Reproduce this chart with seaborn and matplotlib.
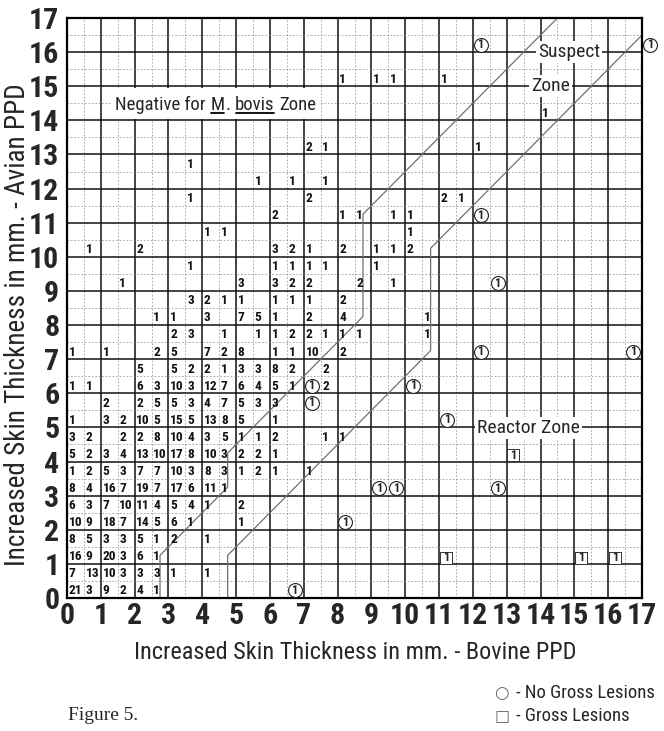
import numpy as np
import pandas as pd
import matplotlib
matplotlib.use("Agg")
import matplotlib.pyplot as plt
import seaborn as sns
from matplotlib import font_manager as fm
from matplotlib.ticker import MultipleLocator
from matplotlib.patches import Rectangle
from matplotlib.lines import Line2D

# ---------------- data (0.5 mm cells: lower-left corner in mm) ----------------
avian_rows = [0.0, 0.5, 1.0, 1.5, 2.0, 2.5, 3.0, 3.5, 4.0, 4.5, 5.0, 5.5, 6.0,
              6.5, 7.0, 7.5, 8.0, 8.5, 9.0, 9.5, 10.0, 10.5, 11.0, 11.5, 12.0,
              12.5, 13.0, 14.0, 15.0]
bovine_by_row = [
    [0, 0.5, 1, 1.5, 2, 2.5],
    [0, 0.5, 1, 1.5, 2, 2.5, 3, 4],
    [0, 0.5, 1, 1.5, 2, 2.5],
    [0, 0.5, 1, 1.5, 2, 2.5, 3, 4],
    [0, 0.5, 1, 1.5, 2, 2.5, 3, 3.5, 5],
    [0, 0.5, 1, 1.5, 2, 2.5, 3, 3.5, 4, 5],
    [0, 0.5, 1, 1.5, 2, 2.5, 3, 3.5, 4, 4.5],
    [0, 0.5, 1, 1.5, 2, 2.5, 3, 3.5, 4, 4.5, 5, 5.5, 6, 7],
    [0, 0.5, 1, 1.5, 2, 2.5, 3, 3.5, 4, 4.5, 5, 5.5, 6],
    [0, 0.5, 1.5, 2, 2.5, 3, 3.5, 4, 4.5, 5, 5.5, 6, 7.5, 8],
    [0, 1, 1.5, 2, 2.5, 3, 3.5, 4, 4.5, 5, 6],
    [1, 2, 2.5, 3, 3.5, 4, 4.5, 5, 5.5, 6],
    [0, 0.5, 2, 2.5, 3, 3.5, 4, 4.5, 5, 5.5, 6, 6.5, 7.5],
    [2, 3, 3.5, 4, 4.5, 5, 5.5, 6, 6.5, 7.5],
    [0, 1, 2.5, 3, 4, 4.5, 5, 6, 6.5, 7, 8],
    [3, 3.5, 4.5, 5.5, 6, 6.5, 7, 7.5, 8, 8.5, 10.5],
    [2.5, 3, 4, 5, 5.5, 6, 7, 8, 10.5],
    [3.5, 4, 4.5, 5, 6, 6.5, 7, 8],
    [1.5, 5, 6, 6.5, 7, 8.5, 9.5],
    [3.5, 6, 6.5, 7, 7.5, 9],
    [0.5, 2, 6, 6.5, 7, 8, 9, 9.5, 10],
    [4, 4.5, 10],
    [6, 8, 8.5, 9.5, 10],
    [3.5, 7, 11, 11.5],
    [5.5, 6.5, 7.5],
    [3.5],
    [7, 7.5, 12],
    [14],
    [8, 9, 9.5, 11],
]
counts_by_row = [
    [21, 3, 9, 2, 4, 1],
    [7, 13, 10, 3, 3, 3, 1, 1],
    [16, 9, 20, 3, 6, 1],
    [8, 5, 3, 3, 5, 1, 2, 1],
    [10, 9, 18, 7, 14, 5, 6, 1, 1],
    [6, 3, 7, 10, 11, 4, 5, 4, 1, 2],
    [8, 4, 16, 7, 19, 7, 17, 6, 11, 1],
    [1, 2, 5, 3, 7, 7, 10, 3, 8, 3, 1, 2, 1, 1],
    [5, 2, 3, 4, 13, 10, 17, 8, 10, 3, 2, 2, 1],
    [3, 2, 2, 2, 8, 10, 4, 3, 5, 1, 1, 2, 1, 1],
    [1, 3, 2, 10, 5, 15, 5, 13, 8, 5, 1],
    [2, 2, 5, 5, 3, 4, 7, 5, 3, 3],
    [1, 1, 6, 3, 10, 3, 12, 7, 6, 4, 5, 1, 2],
    [5, 5, 2, 2, 1, 3, 3, 8, 2, 2],
    [1, 1, 2, 5, 7, 2, 8, 1, 1, 10, 2],
    [2, 3, 1, 1, 1, 2, 2, 1, 1, 1, 1],
    [1, 1, 3, 7, 5, 1, 2, 4, 1],
    [3, 2, 1, 1, 1, 1, 1, 2],
    [1, 3, 3, 2, 2, 2, 1],
    [1, 1, 1, 1, 1, 1],
    [1, 2, 3, 2, 1, 2, 1, 1, 2],
    [1, 1, 1],
    [2, 1, 1, 1, 1],
    [1, 2, 2, 1],
    [1, 1, 1],
    [1],
    [2, 1, 1],
    [1],
    [1, 1, 1, 1],
]

# single animals: no gross lesions (circled) / gross lesions (boxed)
nogl_bovine = [6.5, 8, 9, 9.5, 12.5, 11, 7, 7, 10, 12, 16.5, 12.5, 12, 12, 17]
nogl_avian = [0, 2, 3, 3, 3, 5, 5.5, 6, 6, 7, 7, 9, 11, 16, 16]
gl_bovine = [13, 11, 15, 16]
gl_avian = [4, 1, 1, 1]

# zone boundary lines
suspect_bovine = [2.75, 2.75, 4.75, 4.75, 8.75, 8.75, 14.5]
suspect_avian = [0, 1.25, 3.25, 4.25, 8.25, 11.25, 17]
reactor_bovine = [4.75, 4.75, 10.75, 10.75, 17]
reactor_avian = [0, 1.25, 7.25, 10.25, 16.5]

axis_ticks = list(range(0, 18))

# ---------------- tables ----------------
cells = pd.DataFrame({
    "bovine": [b for row in bovine_by_row for b in row],
    "avian": [a for a, row in zip(avian_rows, bovine_by_row) for _ in row],
    "n": [c for row in counts_by_row for c in row],
})
nogl = pd.DataFrame({"bovine": nogl_bovine, "avian": nogl_avian})
gl = pd.DataFrame({"bovine": gl_bovine, "avian": gl_avian})
lines = pd.concat([
    pd.DataFrame({"bovine": suspect_bovine, "avian": suspect_avian, "zone": "suspect"}),
    pd.DataFrame({"bovine": reactor_bovine, "avian": reactor_avian, "zone": "reactor"}),
])

# ---------------- font choice: prefer a condensed sans ----------------
def pick_condensed():
    faces = [(f.name, str(f.stretch)) for f in fm.fontManager.ttflist]
    narrow_names = ["Liberation Sans Narrow", "Roboto Condensed", "Noto Sans Condensed",
                    "DejaVu Sans Condensed", "Open Sans Condensed"]
    for nm in narrow_names:
        if any(n == nm for n, _ in faces):
            return nm, "normal"
    for fam in ["Noto Sans", "Open Sans", "Roboto", "DejaVu Sans"]:
        for want in ["condensed", "semi-condensed", "extra-condensed"]:
            if any(n == fam and s == want for n, s in faces):
                return fam, want
        for n, s in faces:
            if n == fam and s.isdigit() and int(s) < 500:
                return fam, int(s)
    return "Liberation Sans", "normal"

COND_FAMILY, COND_STRETCH = pick_condensed()

sns.set_style("white")
SANS = [COND_FAMILY, "Liberation Sans", "DejaVu Sans"]
plt.rcParams["font.family"] = SANS
plt.rcParams["font.stretch"] = COND_STRETCH

fig = plt.figure(figsize=(6.64, 7.31), dpi=100)
ax = fig.add_axes([67 / 664, 1 - 598 / 731, (642 - 67) / 664, (598 - 18) / 731])
ax.set_xlim(0, 17)
ax.set_ylim(0, 17)
ax.xaxis.set_major_locator(MultipleLocator(1))
ax.yaxis.set_major_locator(MultipleLocator(1))
ax.xaxis.set_minor_locator(MultipleLocator(0.5))
ax.yaxis.set_minor_locator(MultipleLocator(0.5))
ax.set_axisbelow(True)
ax.grid(which="major", color="#111111", linewidth=1.1)
ax.grid(which="minor", color="#8a8a8a", linewidth=0.5, linestyle=(0, (2.5, 2.5)))
for s in ax.spines.values():
    s.set_linewidth(1.6)
    s.set_color("black")
ax.tick_params(which="both", length=0)
ax.tick_params(axis="x", which="major", labelsize=21.5, pad=3)
ax.tick_params(axis="y", which="major", labelsize=21.5, pad=5.5)
ax.set_xticks(axis_ticks)
ax.set_yticks(axis_ticks)
ax.set_xticklabels([str(t) for t in axis_ticks], fontweight="bold")
ax.set_yticklabels([str(t) for t in axis_ticks], fontweight="bold")

ax.set_xlabel("Increased Skin Thickness in mm. - Bovine PPD", fontsize=17.5)
ax.set_ylabel("Increased Skin Thickness in mm. - Avian PPD", fontsize=19.5)
ax.xaxis.set_label_coords(0.501, -0.074)
ax.yaxis.set_label_coords(-0.062, 0.472)

# boundary lines
sns.lineplot(data=lines, x="bovine", y="avian", units="zone", estimator=None,
             sort=False, color="#707070", linewidth=0.9, ax=ax, zorder=2, legend=False)

# counts
for b, a, n in zip(cells["bovine"], cells["avian"], cells["n"]):
    ax.text(b + 0.05, a + 0.21, str(n), ha="left", va="center", fontsize=9.6,
            fontweight="bold", color="#111111", zorder=5)

# circled / boxed singles
sns.scatterplot(data=nogl, x=nogl["bovine"] + 0.23, y=nogl["avian"] + 0.22, marker="o",
                s=100, facecolor="white", edgecolor="#222222", linewidth=0.8,
                ax=ax, zorder=4, clip_on=False, legend=False)
for b, a in zip(nogl["bovine"], nogl["avian"]):
    ax.text(b + 0.23, a + 0.22, "1", ha="center", va="center", fontsize=9,
            fontweight="bold", zorder=5, clip_on=False)
sns.scatterplot(data=gl, x=gl["bovine"] + 0.2, y=gl["avian"] + 0.18, marker="s",
                s=85, facecolor="white", edgecolor="#333333", linewidth=0.7,
                ax=ax, zorder=4, legend=False)
for b, a in zip(gl["bovine"], gl["avian"]):
    ax.text(b + 0.2, a + 0.18, "1", ha="center", va="center", fontsize=9,
            fontweight="bold", zorder=5)

# zone labels
zb = dict(facecolor="white", edgecolor="none", pad=1.5)
ax.text(14.85, 16.0, "Suspect", ha="center", va="center", fontsize=14, bbox=zb, zorder=6)
ax.text(14.3, 15.0, "Zone", ha="center", va="center", fontsize=14, bbox=zb, zorder=6)
ax.text(13.65, 4.98, "Reactor Zone", ha="center", va="center", fontsize=14, bbox=zb, zorder=6)

# "Negative for M. bovis Zone" with underlines
NEG_FS = 13.5
t1 = ax.text(1.42, 14.45, "Negative for", ha="left", va="center", fontsize=NEG_FS, zorder=6)
t2 = ax.annotate("M", xy=(1, 0), xycoords=t1, xytext=(3.5, 0), textcoords="offset points",
                 va="bottom", ha="left", fontsize=NEG_FS, zorder=6)
t3 = ax.annotate(".", xy=(1, 0), xycoords=t2, xytext=(0.5, 0), textcoords="offset points",
                 va="bottom", ha="left", fontsize=NEG_FS, zorder=6)
t4 = ax.annotate("bovis", xy=(1, 0), xycoords=t3, xytext=(3.5, 0), textcoords="offset points",
                 va="bottom", ha="left", fontsize=NEG_FS, zorder=6)
t5 = ax.annotate("Zone", xy=(1, 0), xycoords=t4, xytext=(3.5, 0), textcoords="offset points",
                 va="bottom", ha="left", fontsize=NEG_FS, zorder=6)
fig.canvas.draw()
inv_ax = ax.transData.inverted()
ext = [t.get_window_extent() for t in (t1, t2, t3, t4, t5)]
x0 = min(e.x0 for e in ext) - 3
x1 = max(e.x1 for e in ext) + 3
(dx0, _), (dx1, _) = inv_ax.transform([(x0, 0), (x1, 0)])
ax.add_patch(Rectangle((dx0, 14.04), dx1 - dx0, 0.92, facecolor="white",
                       edgecolor="none", zorder=3))
inv_fig = fig.transFigure.inverted()
for t in (t2, t4):
    e = t.get_window_extent()
    p0 = inv_fig.transform((e.x0 + 0.5, e.y0 + 1.5))
    p1 = inv_fig.transform((e.x1 - 0.5, e.y0 + 1.5))
    fig.add_artist(Line2D([p0[0], p1[0]], [p0[1], p1[1]], color="black", linewidth=1.3,
                          transform=fig.transFigure, zorder=7))

# footer
fig.text(68 / 664, 1 - 716 / 731, "Figure 5.", ha="left", va="center", fontsize=14,
         family=["Liberation Serif", "DejaVu Serif"], fontstretch="normal")
fig.text(494 / 664, 1 - 693 / 731, "\u25CB", ha="left", va="center", fontsize=12,
         color="#666666", family=["DejaVu Sans"], fontstretch="normal")
fig.text(516 / 664, 1 - 693 / 731, "- No Gross Lesions", ha="left", va="center",
         fontsize=13.5, family=SANS)
fig.text(495 / 664, 1 - 716 / 731, "\u25A1", ha="left", va="center", fontsize=11.5,
         color="#666666", family=["DejaVu Sans"], fontstretch="normal")
fig.text(516 / 664, 1 - 716 / 731, "- Gross Lesions", ha="left", va="center",
         fontsize=13.5, family=SANS)

fig.savefig("out.png", dpi=100)
